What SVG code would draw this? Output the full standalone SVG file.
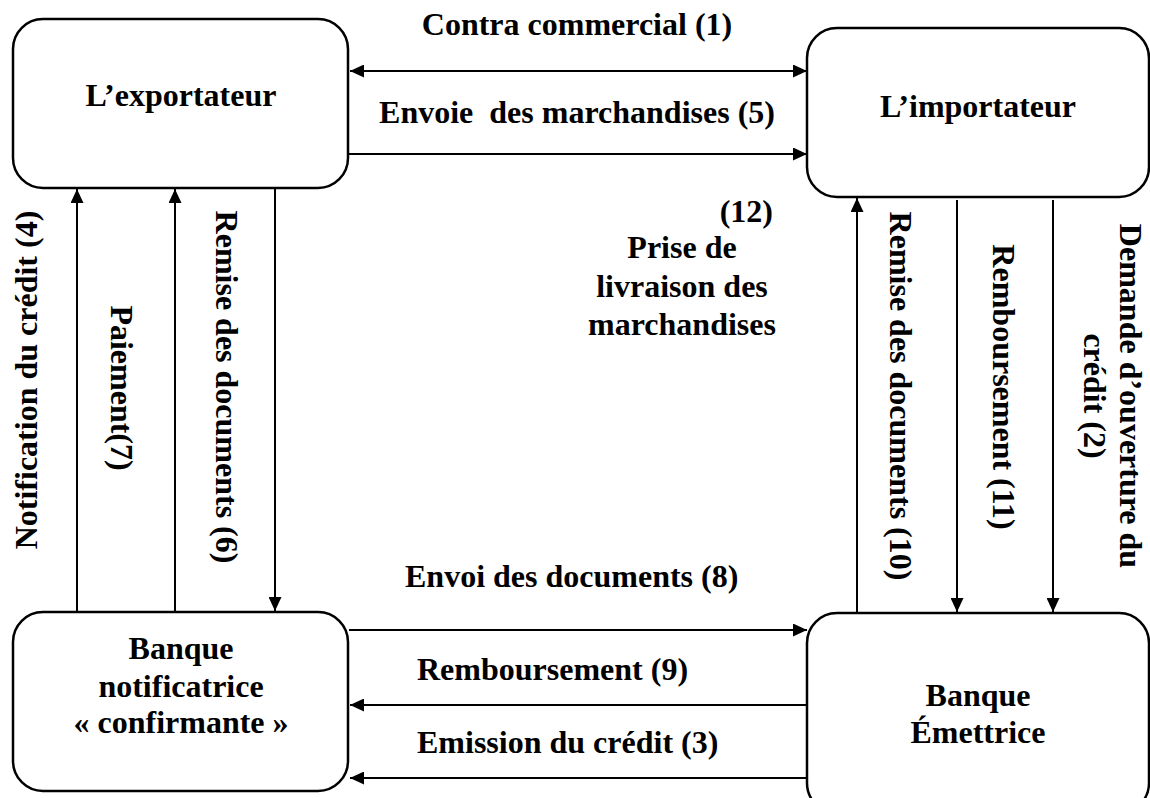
<svg xmlns="http://www.w3.org/2000/svg" width="1150" height="798" viewBox="0 0 1150 798">
<style>
.box{fill:#fff;stroke:#000;stroke-width:2.5}
.t{font-family:"Liberation Serif","Times New Roman",serif;font-weight:bold;font-size:32px;fill:#000}
.m{text-anchor:middle}
.c{fill:none;stroke:#000;stroke-width:2}
</style>
<defs>
<marker id="ah" markerUnits="userSpaceOnUse" markerWidth="15" markerHeight="13" refX="14" refY="6.5" orient="auto-start-reverse">
<path d="M0,0 L14,6.5 L0,13 z" fill="#000"/>
</marker>
</defs>
<rect width="1150" height="798" fill="#fff"/>
<g id="connectors">
<line class="c" x1="350" y1="71" x2="807" y2="71" marker-start="url(#ah)" marker-end="url(#ah)"/>
<line class="c" x1="349" y1="154" x2="807" y2="154" marker-end="url(#ah)"/>
<line class="c" x1="77" y1="612" x2="77" y2="189" marker-end="url(#ah)"/>
<line class="c" x1="175" y1="612" x2="175" y2="189" marker-end="url(#ah)"/>
<line class="c" x1="275" y1="188" x2="275" y2="611" marker-end="url(#ah)"/>
<line class="c" x1="857" y1="613" x2="857" y2="198" marker-end="url(#ah)"/>
<line class="c" x1="957" y1="200" x2="957" y2="612" marker-end="url(#ah)"/>
<line class="c" x1="1053" y1="200" x2="1053" y2="612" marker-end="url(#ah)"/>
<line class="c" x1="349" y1="630" x2="807" y2="630" marker-end="url(#ah)"/>
<line class="c" x1="807" y1="705" x2="350" y2="705" marker-end="url(#ah)"/>
<line class="c" x1="807" y1="778" x2="350" y2="778" marker-end="url(#ah)"/>
</g>
<g id="exportateur">
<rect class="box" x="13" y="19" width="335" height="169" rx="30"/>
<text class="t m" x="181" y="106">L’exportateur</text>
</g>
<g id="importateur">
<rect class="box" x="807" y="28" width="342" height="169" rx="30"/>
<text class="t m" x="978" y="117">L’importateur</text>
</g>
<g id="banque-notificatrice">
<rect class="box" x="13" y="612" width="335" height="179" rx="30"/>
<text class="t m" x="181" y="659">Banque</text>
<text class="t m" x="181" y="697">notificatrice</text>
<text class="t m" x="181" y="733">« confirmante »</text>
</g>
<g id="banque-emettrice">
<rect class="box" x="807" y="613" width="342" height="200" rx="30"/>
<text class="t m" x="978" y="706">Banque</text>
<text class="t m" x="978" y="743">Émettrice</text>
</g>
<g id="labels">
<text class="t m" x="577" y="35">Contra commercial (1)</text>
<text class="t m" x="577" y="123" xml:space="preserve" style="white-space:pre">Envoie  des marchandises (5)</text>
<text class="t" x="773" y="222" text-anchor="end">(12)</text>
<text class="t m" x="682" y="258">Prise de</text>
<text class="t m" x="682" y="297">livraison des</text>
<text class="t m" x="682" y="335">marchandises</text>
<text class="t" x="405" y="587">Envoi des documents (8)</text>
<text class="t" x="417" y="680">Remboursement (9)</text>
<text class="t" x="417" y="753">Emission du crédit (3)</text>
<text class="t m" transform="translate(37,380) rotate(-90)">Notification du crédit (4)</text>
<text class="t m" transform="translate(111,388) rotate(90)">Paiement(7)</text>
<text class="t m" transform="translate(216,387) rotate(90)">Remise des documents (6)</text>
<text class="t m" transform="translate(890,396) rotate(90)">Remise des documents (10)</text>
<text class="t m" transform="translate(993,387) rotate(90)">Remboursement (11)</text>
<text class="t m" transform="translate(1120,396) rotate(90)">Demande d’ouverture du</text>
<text class="t m" transform="translate(1084,396) rotate(90)">crédit (2)</text>
</g>
</svg>
